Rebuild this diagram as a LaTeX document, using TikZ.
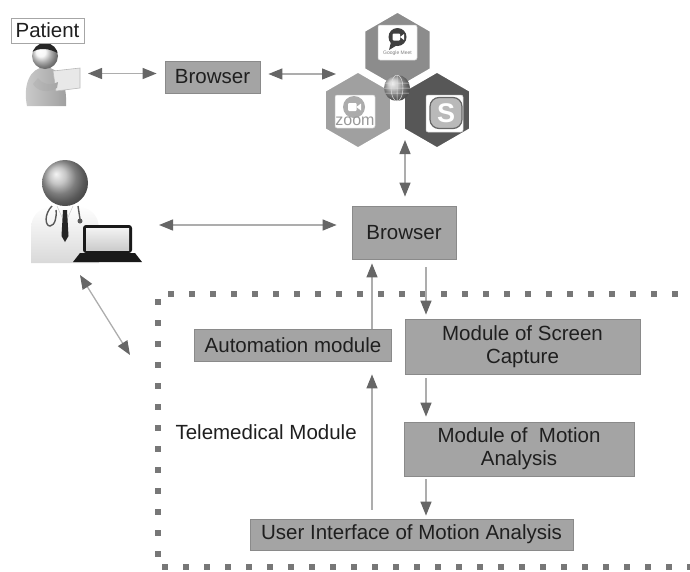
\documentclass[tikz,border=0pt]{standalone}
\usepackage{fontspec}
\setmainfont{Liberation Sans}
\usetikzlibrary{arrows.meta}

\definecolor{boxfill}{HTML}{A4A4A4}
\definecolor{boxline}{HTML}{8A8A8A}
\definecolor{linegray}{HTML}{ADADAD}
\definecolor{tipgray}{HTML}{666666}
\definecolor{dotgray}{HTML}{777777}
\definecolor{hextop}{HTML}{8C8C8C}
\definecolor{hexleft}{HTML}{A0A0A0}
\definecolor{hexright}{HTML}{575757}

\newcommand\lblfont{\fontsize{20.5}{23}\selectfont}

\tikzset{
  ahead/.tip={Triangle[length=14pt,width=11pt,color=tipgray]},
  box/.style={draw=boxline, fill=boxfill, line width=0.8pt, font=\lblfont,
    text=black!88, align=center, inner sep=0pt},
  tag/.style={draw=gray!70, fill=white, line width=1pt, font=\lblfont,
    text=black!88, minimum width=73pt, minimum height=25pt, inner sep=0pt},
  link/.style={draw=linegray, line width=1.3pt, ahead-ahead},
  flow/.style={draw=linegray, line width=1.3pt, -ahead},
  frame/.style={draw=dotgray, line width=6pt, dash pattern=on 6pt off 15pt},
  hex/.style={draw=white, line width=1.5pt},
  iconbox/.style={fill=white, draw=gray!40, line width=0.5pt, rounded corners=2pt},
}

\begin{document}
\begin{tikzpicture}[x=1pt,y=-1pt]
  \useasboundingbox (0,0) rectangle (690,571);
  \def\hr{38}

  % patient with tablet
  \shade[left color=gray!40, right color=gray!75] (27,106) .. controls (23,86) and (29,68) .. (45,67)
     .. controls (60,68) and (67,82) .. (66,106) -- cycle;
  \filldraw[fill=gray!18, draw=gray!55, line width=0.6pt] (53,71) -- (80,68) -- (80,88) -- (56,91) -- cycle;
  \shade[left color=gray!55, right color=gray!70] (33,84) .. controls (38,92) and (48,93) .. (57,88)
     -- (58,82) .. controls (50,86) and (42,84) .. (38,78) -- cycle;
  \shade[ball color=gray!8] (45,56) circle (13pt);
  \begin{scope}
    \clip (45,56) circle (13pt);
    \fill[black!85] (31,53) .. controls (38,47) and (50,48) .. (59,54) -- (59,40) -- (31,40) -- cycle;
  \end{scope}
  \node[tag] (ptag) at (47.5,30.5) {Patient};

  % doctor with laptop
  \shade[top color=white, bottom color=gray!30] (31,263) -- (31,230) .. controls (31,210) and (45,205) .. (65,205)
     .. controls (85,205) and (99,210) .. (99,230) -- (99,263) -- cycle;
  \draw[gray!35, line width=0.6pt] (57,206) -- (65,224) -- (73,206);
  \fill[black!85] (63,210) -- (67,210) -- (68.5,236) -- (65,242) -- (61.5,236) -- cycle;
  \draw[gray!70!black, line width=1.4pt] (52,206) .. controls (44,214) and (45,226) .. (50,226)
     .. controls (55,226) and (57,216) .. (56,210);
  \draw[gray!70!black, line width=1.4pt] (78,206) -- (80,219);
  \fill[gray!70!black] (80,221) circle (2.5pt);
  \shade[ball color=gray!60] (65,183) circle (23pt);
  \fill[black!90, rounded corners=3pt] (83,225) rectangle (132,253);
  \shade[top color=gray!10, bottom color=gray!40] (86,228) rectangle (129,250);
  \fill[black!90] (80,253) -- (135,253) -- (142,262) -- (73,262) -- cycle;

  % video call services
  \filldraw[hex, fill=hextop] (397.5,50) +(30:\hr) \foreach \a in {90,150,210,270,330} {-- +(\a:\hr)} -- cycle;
  \filldraw[hex, fill=hexleft] (358,110) +(30:\hr) \foreach \a in {90,150,210,270,330} {-- +(\a:\hr)} -- cycle;
  \filldraw[hex, fill=hexright] (437,110) +(30:\hr) \foreach \a in {90,150,210,270,330} {-- +(\a:\hr)} -- cycle;

  \filldraw[iconbox] (378,25) rectangle (417,60);
  \fill[black!75] (397.5,37) circle (9pt);
  \fill[black!75] (391,42) -- (389,50) -- (396.5,45.5) -- cycle;
  \fill[white, rounded corners=1pt] (392.5,33.5) rectangle (400,40.5);
  \fill[white] (400,37) -- (404,34) -- (404,40) -- cycle;
  \node[font=\fontsize{5}{5}\selectfont, text=gray] (gmeet) at (397.5,53.5) {Google Meet};

  \filldraw[iconbox] (335,95) rectangle (375,128);
  \fill[gray!65] (354,107) circle (11pt);
  \fill[white, rounded corners=1pt] (348,103) rectangle (356.5,111);
  \fill[white] (356.5,107) -- (361,103.5) -- (361,110.5) -- cycle;
  \node[font=\fontsize{16}{16}\selectfont, text=gray!80] (zoom) at (355,121.5) {zoom};

  \filldraw[iconbox] (426,95) rectangle (463,132);
  \filldraw[fill=gray!55, draw=black!60, line width=1.2pt, rounded corners=9pt] (430,97.5) rectangle (462,128.5);
  \node[font=\bfseries\fontsize{27}{27}\selectfont, text=white] (skype) at (446,113) {S};

  \shade[ball color=gray!55] (397,88) circle (13pt);
  \begin{scope}
    \clip (397,88) circle (13pt);
    \draw[gray!25, line width=0.5pt] (384,83) -- (410,83) (384,88) -- (410,88) (384,93) -- (410,93)
      (397,75) -- (397,101) (397,88) ellipse (6pt and 13pt);
  \end{scope}

  % boxes
  \node[box, minimum width=95pt, minimum height=32pt] (brw1) at (212.5,77) {Browser};
  \node[box, minimum width=104pt, minimum height=53pt] (brw2) at (404,232.5) {Browser};
  \node[box, minimum width=197pt, minimum height=32pt] (auto) at (293,345) {Automation module};
  \node[box, minimum width=235pt, minimum height=55pt] (scap) at (522.5,346.5) {Module of Screen\\Capture};
  \node[box, minimum width=230pt, minimum height=54pt] (moan) at (519,449) {Module of \ Motion\\Analysis};
  \node[box, minimum width=323pt, minimum height=31pt] (uima) at (411.5,534.5) {User Interface of Motion Analysis};
  \node[anchor=west, font=\lblfont, text=black!88] (tmlbl) at (172,432) {Telemedical Module};

  % telemedical module border
  \draw[frame] (168,294) -- (690,294);
  \draw[frame] (158,299) -- (158,562);
  \draw[frame] (162,567) -- (690,567);

  % connections
  \coordinate (pat) at (88,73.5);
  \coordinate (appw) at (336,74);
  \coordinate (apps) at (405,140);
  \coordinate (doc) at (159,225);
  \coordinate (docs) at (80,275);
  \coordinate (frm) at (130,355);
  \coordinate (dn) at (426,0);
  \coordinate (up) at (372,0);

  \draw[link, shorten >=8pt] (pat) -- (pat -| brw1.west);
  \draw[link, shorten <=8pt] (brw1.east |- appw) -- (appw);
  \draw[link, shorten >=9pt] (apps) -- (apps |- brw2.north);
  \draw[link, shorten >=15pt] (doc) -- (doc -| brw2.west);
  \draw[link] (docs) -- (frm);
  \draw[flow, shorten <=8pt, shorten >=4pt] (brw2.south -| dn) -- (scap.north -| dn);
  \draw[flow, shorten <=4pt, shorten >=5pt] (scap.south -| dn) -- (moan.north -| dn);
  \draw[flow, shorten <=3pt, shorten >=3pt] (moan.south -| dn) -- (uima.north -| dn);
  \draw[flow, shorten <=9pt, shorten >=13pt] (uima.north -| up) -- (auto.south -| up);
  \draw[flow, shorten >=4pt] (auto.north -| up) -- (brw2.south -| up);
\end{tikzpicture}
\end{document}
